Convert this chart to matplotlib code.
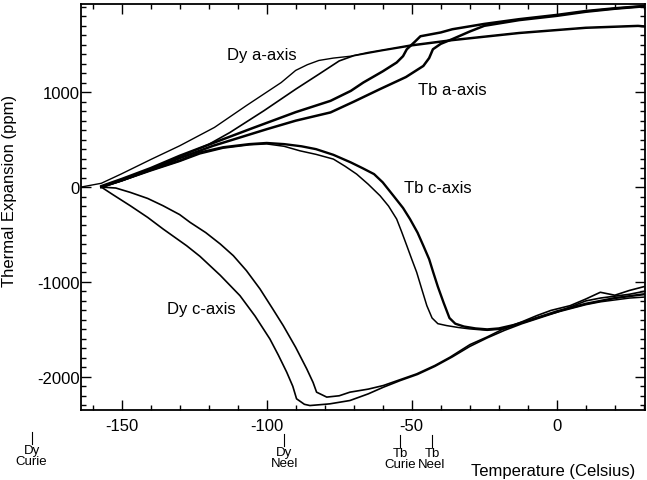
import numpy as np
import matplotlib
matplotlib.use("Agg")
import matplotlib.pyplot as plt
from matplotlib.ticker import MultipleLocator
from matplotlib.transforms import blended_transform_factory

plt.rcParams["font.family"] = ["Liberation Sans", "DejaVu Sans"]
plt.rcParams["axes.unicode_minus"] = False

# =========================
# Data, temperature in C, expansion in ppm
# =========================
dy_a_up_T = [-164, -157, -150, -140, -130, -118, -107, -95, -90, -86, -82, -77, -71, -65, -50, -36, -13, 10, 28, 30]
dy_a_up_y = [0, 40, 140, 290, 435, 629, 859, 1102, 1230, 1290, 1335, 1360, 1380, 1420, 1500, 1555, 1630, 1685, 1705, 1700]

dy_a_lo_T = [-157, -150, -140, -130, -120, -112.7, -101, -90, -82, -75, -70, -60, -50, -36, -13, 10, 28, 30]
dy_a_lo_y = [0, 75, 190, 320, 450, 575, 804, 1032, 1190, 1330, 1385, 1440, 1490, 1545, 1620, 1675, 1695, 1690]

tb_a_up_T = [-157, -150, -140, -130, -118, -105, -90, -78, -71, -66.7, -60, -55.2, -53, -51.7, -49, -47, -40, -36, -25, -13, 0, 10, 20, 30]
tb_a_up_y = [10, 85, 200, 330, 470, 620, 790, 909, 1014, 1102, 1220, 1313, 1380, 1453, 1530, 1590, 1630, 1664, 1720, 1770, 1815, 1856, 1885, 1909]

tb_a_lo_T = [-157, -150, -140, -130, -118.5, -100, -90, -78, -70, -61, -52, -46, -44, -42.7, -40, -36, -30, -25, -13, 0, 10, 20, 30]
tb_a_lo_y = [0, 70, 185, 305, 435, 610, 700, 787, 900, 1032, 1160, 1277, 1360, 1453, 1510, 1560, 1640, 1700, 1760, 1805, 1848, 1880, 1905]

tb_c_out_T = [-157, -150, -140, -130, -123, -115, -106, -100, -94, -88, -83, -77, -71, -67, -63, -60, -56.3, -53,
              -50.6, -48, -46, -44, -42.6, -41, -39, -37, -35, -32, -28, -24, -20, -15, -10, -5, 0, 5, 10, 15, 20, 25, 30]
tb_c_out_y = [0, 70, 180, 280, 365, 420, 453, 465, 453, 430, 400, 340, 260, 200, 137, 50, -92, -220,
              -337, -480, -618, -760, -898, -1050, -1220, -1380, -1440, -1470, -1490, -1500, -1490, -1455, -1410, -1360, -1310, -1270, -1230, -1200, -1170, -1150, -1130]

tb_c_in_T = [-157, -150, -140, -130, -123, -115, -106, -100, -94, -88.5, -83, -77, -73, -69, -65, -60.9, -58, -55.2, -53.5,
             -51.7, -50, -48.3, -46.5, -44.8, -43, -41, -38, -34, -30, -24, -18, -12, -6, 0, 5, 10, 15, 20, 25, 30]
tb_c_in_y = [0, 65, 170, 270, 350, 410, 445, 455, 430, 382, 345, 295, 220, 137, 30, -92, -200, -337, -470,
             -618, -760, -898, -1080, -1250, -1380, -1440, -1460, -1480, -1495, -1510, -1495, -1430, -1370, -1320, -1280, -1240, -1210, -1190, -1170, -1160]

dy_c_up_T = [-157, -152, -147, -141, -135.7, -130, -126.4, -121, -116, -111.5, -107, -102.3, -98, -94.3, -90, -86.2, -84, -82.8, -79.3,
             -75, -71.3, -65, -59.8, -54, -48.3, -42, -36.8, -29.9, -24, -18.4, -12, -6.9, -2, 4.6, 10, 15, 20, 25, 30]
dy_c_up_y = [0, -10, -56, -120, -197, -290, -372, -480, -600, -723, -880, -1074, -1280, -1460, -1690, -1916, -2060, -2162, -2214,
             -2200, -2162, -2130, -2092, -2030, -1969, -1880, -1793, -1660, -1580, -1495, -1420, -1355, -1300, -1250, -1180, -1109, -1140, -1090, -1050]

dy_c_lo_T = [-157, -153, -147, -141, -135.7, -127.6, -123, -116, -109.2, -104, -98.9, -96, -93.1, -91, -89.7, -87, -85.1, -80, -78.2,
             -71.3, -65, -59.8, -54, -48, -42, -36, -30, -24, -18, -12, -6, 0, 5, 10, 15, 20, 25, 30]
dy_c_lo_y = [0, -80, -197, -320, -442, -618, -730, -930, -1145, -1360, -1601, -1770, -1951, -2100, -2232, -2290, -2303, -2290, -2285,
             -2250, -2180, -2110, -2040, -1975, -1890, -1790, -1680, -1590, -1510, -1440, -1380, -1320, -1260, -1200, -1170, -1150, -1130, -1100]

# curve labels
curve_labels = ["Dy a-axis", "Tb a-axis", "Tb c-axis", "Dy c-axis"]
label_T = [-101.6, -36.1, -41.1, -122.4]
label_y = [1400, 1032, 0, -1285]

# transition temperatures marked below the axis
trans_T = [-181, -94, -54, -43]
trans_names = ["Dy\nCurie", "Dy\nNeel", "Tb\nCurie", "Tb\nNeel"]

# =========================
# Plot
# =========================
fig = plt.figure(figsize=(6.47, 4.81), dpi=100)
ax = fig.add_axes([81 / 647, 70 / 481, 564 / 647, 406 / 481])

ax.plot(dy_a_up_T, dy_a_up_y, color="black", lw=1.0)
ax.plot(dy_a_lo_T, dy_a_lo_y, color="black", lw=1.2)
ax.plot(tb_a_up_T, tb_a_up_y, color="black", lw=1.8)
ax.plot(tb_a_lo_T, tb_a_lo_y, color="black", lw=1.8)
ax.plot(tb_c_out_T, tb_c_out_y, color="black", lw=1.7)
ax.plot(tb_c_in_T, tb_c_in_y, color="black", lw=1.1)
ax.plot(dy_c_up_T, dy_c_up_y, color="black", lw=1.2)
ax.plot(dy_c_lo_T, dy_c_lo_y, color="black", lw=1.2)

for txt, t, y in zip(curve_labels, label_T, label_y):
    ax.text(t, y, txt, fontsize=12, ha="center", va="center")

ax.set_xlim(-164, 30.4)
ax.set_ylim(-2350, 1930)
ax.xaxis.set_major_locator(MultipleLocator(50))
ax.xaxis.set_minor_locator(MultipleLocator(10))
ax.yaxis.set_major_locator(MultipleLocator(1000))
ax.yaxis.set_minor_locator(MultipleLocator(100))
ax.tick_params(which="both", direction="in", top=True, right=True, width=1, labelsize=12)
ax.tick_params(which="major", length=7)
ax.tick_params(which="minor", length=3.5)
ax.tick_params(axis="x", pad=6)
ax.tick_params(axis="y", pad=1)
for s in ax.spines.values():
    s.set_linewidth(1.3)

# transition markers below the axis
trans = blended_transform_factory(ax.transData, fig.transFigure)
drops = [0, 2, 3, 3]
for t, name, d in zip(trans_T, trans_names, drops):
    y0 = (481 - 433 - d) / 481
    y1 = (481 - 445 - d) / 481
    ax.plot([t, t], [y0, y1], color="black", lw=0.8, transform=trans, clip_on=False)
    ax.text(t, y1, name, transform=trans, fontsize=9.5, ha="center", va="top",
            linespacing=0.9, clip_on=False)

fig.text(10 / 647, 1 - 191 / 481, "Thermal Expansion (ppm)", rotation=90,
         fontsize=12, ha="center", va="center")
fig.text(553 / 647, 1 - 464 / 481, "Temperature (Celsius)", fontsize=12,
         ha="center", va="top")

fig.savefig("out.png", dpi=100)
